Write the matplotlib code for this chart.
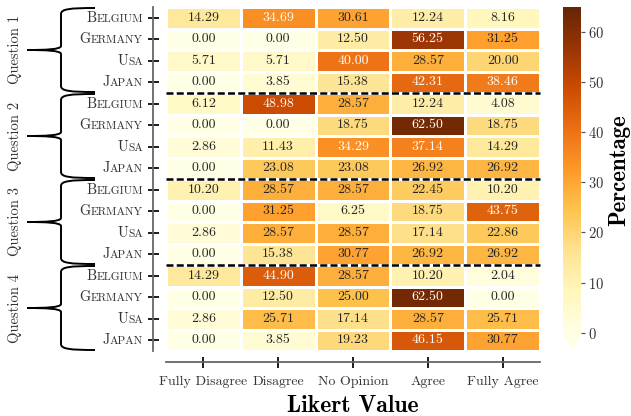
#Heatmap of Likert answers per country and question

import numpy as np
import matplotlib
matplotlib.use("Agg")
import matplotlib.pyplot as plt
import seaborn as sns
from matplotlib.path import Path
from matplotlib.patches import PathPatch
from matplotlib.offsetbox import TextArea, HPacker, AnnotationBbox

# data (percent per answer)
likert = ["Fully Disagree", "Disagree", "No Opinion", "Agree", "Fully Agree"]
countries = ["Belgium", "Germany", "Usa", "Japan"]
questions = ["Question 1", "Question 2", "Question 3", "Question 4"]

q1 = [[14.29, 34.69, 30.61, 12.24, 8.16],
      [0.00, 0.00, 12.50, 56.25, 31.25],
      [5.71, 5.71, 40.00, 28.57, 20.00],
      [0.00, 3.85, 15.38, 42.31, 38.46]]
q2 = [[6.12, 48.98, 28.57, 12.24, 4.08],
      [0.00, 0.00, 18.75, 62.50, 18.75],
      [2.86, 11.43, 34.29, 37.14, 14.29],
      [0.00, 23.08, 23.08, 26.92, 26.92]]
q3 = [[10.20, 28.57, 28.57, 22.45, 10.20],
      [0.00, 31.25, 6.25, 18.75, 43.75],
      [2.86, 28.57, 28.57, 17.14, 22.86],
      [0.00, 15.38, 30.77, 26.92, 26.92]]
q4 = [[14.29, 44.90, 28.57, 10.20, 2.04],
      [0.00, 12.50, 25.00, 62.50, 0.00],
      [2.86, 25.71, 17.14, 28.57, 25.71],
      [0.00, 3.85, 19.23, 46.15, 30.77]]

data = np.array(q1 + q2 + q3 + q4)

plt.rcParams["font.family"] = "cmr10"
plt.rcParams["axes.formatter.use_mathtext"] = True

W, H = 631, 416
PT = 0.72  # points per pixel at dpi 100

def px_box(l, t, r, b):
    return [l / W, 1 - b / H, (r - l) / W, (b - t) / H]

top, bottom = 7, 351
row_h = (bottom - top) / len(data)

fig = plt.figure(figsize=(W / 100, H / 100), dpi=100)
ax = fig.add_axes(px_box(166, top, 540, bottom))
cax = fig.add_axes(px_box(563, top, 581, bottom - 2))
# overlay in pixel units for braces and labels
bax = fig.add_axes([0, 0, 1, 1], zorder=-1)
bax.set_xlim(0, W)
bax.set_ylim(H, 0)
bax.axis("off")

sns.heatmap(data, ax=ax, cbar_ax=cax, cmap="YlOrBr", vmin=0, vmax=65,
            annot=True, fmt=".2f", linewidths=0.8, linecolor="white",
            annot_kws={"fontsize": 10}, xticklabels=likert,
            yticklabels=False, cbar_kws={"extend": "min"})

# dashed separators between questions
for k in [4, 8, 12]:
    ax.axhline(k, color="black", lw=1.8, ls=(0, (2.8, 1.3)), clip_on=False)

for s in ["left", "bottom"]:
    ax.spines[s].set_visible(True)
    ax.spines[s].set_color("#666666")
    ax.spines[s].set_linewidth(1.8 * PT)
ax.spines["left"].set_position(("outward", 13 * PT))
ax.spines["bottom"].set_position(("outward", 11 * PT))

ax.set_yticks(np.arange(len(data)) + 0.5)
ax.set_yticklabels([])
ax.tick_params(axis="y", left=True, direction="inout", length=11 * PT,
               width=2 * PT, color="#222222")
ax.tick_params(axis="x", bottom=True, direction="inout", length=11 * PT,
               width=2 * PT, color="#222222", labelsize=10,
               labelcolor="#333333", pad=6)
plt.setp(ax.get_xticklabels(), rotation=0)
ax.set_xlabel("Likert Value", family="cmb10", fontsize=17, labelpad=5)

# small caps country names
for r in range(len(data)):
    name = countries[r % 4]
    ypx = top + (r + 0.5) * row_h
    box = HPacker(children=[
        TextArea(name[0], textprops=dict(fontsize=10.3, color="#333333")),
        TextArea(name[1:].upper(), textprops=dict(fontsize=8.2, color="#333333"))],
        align="baseline", pad=0, sep=0)
    ab = AnnotationBbox(box, (143, ypx), xycoords="data", box_alignment=(1, 0.5),
                        frameon=False, pad=0)
    bax.add_artist(ab)

# curly braces per question
def brace(y0, y1):
    ym = (y0 + y1) / 2
    verts = [(95, y0), (70, y0), (61, y0 + 1), (61, y0 + 6),
             (61, ym - 4),
             (61, ym - 0.5), (45, ym), (27, ym),
             (45, ym), (61, ym + 0.5), (61, ym + 4),
             (61, y1 - 6),
             (61, y1 - 1), (70, y1), (95, y1)]
    codes = [Path.MOVETO, Path.CURVE4, Path.CURVE4, Path.CURVE4,
             Path.LINETO,
             Path.CURVE4, Path.CURVE4, Path.CURVE4,
             Path.CURVE4, Path.CURVE4, Path.CURVE4,
             Path.LINETO,
             Path.CURVE4, Path.CURVE4, Path.CURVE4]
    bax.add_patch(PathPatch(Path(verts, codes), fill=False, lw=1.4, color="black"))

for q in range(4):
    y0 = top + q * 4 * row_h + 1
    y1 = top + (q + 1) * 4 * row_h - 1
    brace(y0, y1)
    bax.text(15, (y0 + y1) / 2, questions[q], rotation=90, ha="center",
             va="center", fontsize=10.5, color="#333333")

cb = ax.collections[0].colorbar
cb.set_label("Percentage", family="cmb10", fontsize=16.5, labelpad=3)
cax.tick_params(length=4 * PT, width=1.2 * PT, color="#555555", labelsize=10.5,
                labelcolor="#333333", pad=2)

plt.savefig("out.png", dpi=100)
